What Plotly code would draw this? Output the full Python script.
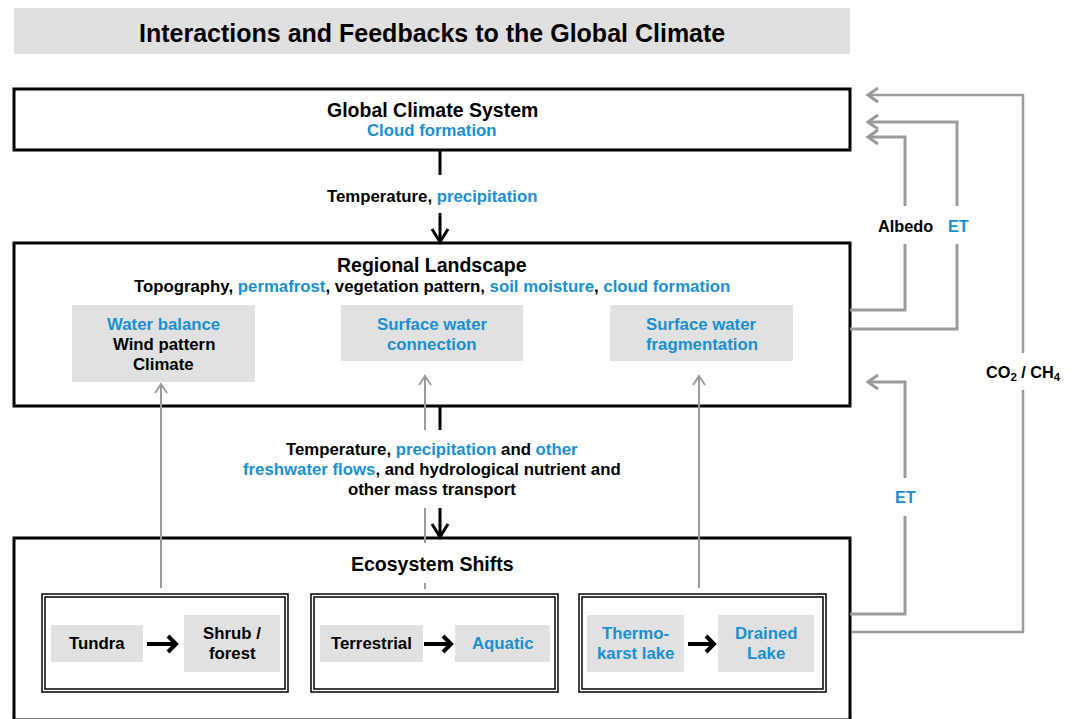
import plotly.graph_objects as go

W, H = 1074, 719
BLUE = "#1a8fd0"
GREY = "#9b9b9b"
BOXFILL = "#e1e1e1"
FONT = "Liberation Sans, Arial, sans-serif"
S_BODY = 16.8
S_HEAD = 19.5
S_TITLE = 25
S_SIDE = 16.3


def b(t):
    return f'<span style="color:{BLUE}">{t}</span>'


# ---- text content ----
title_text = "Interactions and Feedbacks to the Global Climate"
main_boxes = [  # (x0, y0, x1, y1)
    (14, 89, 850, 150),
    (14, 243, 850, 406),
    (14, 538, 850, 720),
]
main_titles = ["Global Climate System", "Regional Landscape", "Ecosystem Shifts"]
main_title_y = [110, 265, 564]
sub_lines = [("Cloud formation", 130, True),
             ("Topography, " + b("permafrost") + ", vegetation pattern, " + b("soil moisture") + ", " + b("cloud formation"), 286, False)]

landscape_boxes = [(72, 305, 255, 382), (341, 305, 523, 361), (610, 305, 793, 361)]
landscape_lines = [[b("Water balance"), "Wind pattern", "Climate"],
                   [b("Surface water"), b("connection")],
                   [b("Surface water"), b("fragmentation")]]

flow_text_top = ["Temperature, " + b("precipitation")]
flow_text_mid = ["Temperature, " + b("precipitation") + " and " + b("other"),
                 b("freshwater flows") + ", and hydrological nutrient and",
                 "other mass transport"]

shift_frames = [(42, 594, 288, 692), (311, 594, 558, 692), (579, 594, 826, 692)]
shift_boxes = [(51, 625, 143, 662), (184, 615, 280, 672),
               (320, 625, 423, 662), (455, 625, 550, 662),
               (587, 615, 684, 672), (718, 615, 814, 672)]
shift_lines = [["Tundra"], ["Shrub /", "forest"],
               ["Terrestrial"], [b("Aquatic")],
               [b("Thermo-"), b("karst lake")], [b("Drained"), b("Lake")]]

feedback_labels = [("Albedo", 905, 226), (b("ET"), 958, 226),
                   ("CO<sub>2</sub> / CH<sub>4</sub>", 1023, 373), (b("ET"), 905, 497)]

shapes = []
annots = []


def rect(x0, y0, x1, y1, fill="rgba(0,0,0,0)", lc="black", lw=0):
    shapes.append(dict(type="rect", xref="x", yref="y", x0=x0, y0=y0, x1=x1, y1=y1,
                       fillcolor=fill, line=dict(color=lc, width=lw), layer="above"))


def path(d, color, width):
    shapes.append(dict(type="path", xref="x", yref="y", path=d,
                       line=dict(color=color, width=width), layer="above"))


def text(t, x, y, size=S_BODY, color="black", bold=True):
    annots.append(dict(x=x, y=y, xref="x", yref="y", text=t, showarrow=False,
                       font=dict(family=FONT, size=size, color=color,
                                 weight="bold" if bold else "normal"),
                       xanchor="center", yanchor="middle"))


# title
rect(14, 8, 850, 54, fill="#e0e0e0")
text(title_text, 432, 33, size=S_TITLE)

# main boxes
for (x0, y0, x1, y1) in main_boxes:
    rect(x0, y0, x1, y1, fill="white", lw=3)
for t, y in zip(main_titles, main_title_y):
    text(t, 432, y, size=S_HEAD)
for t, y, blue in sub_lines:
    text(b(t) if blue else t, 432, y)

# landscape grey boxes
for (x0, y0, x1, y1), lines in zip(landscape_boxes, landscape_lines):
    rect(x0, y0, x1, y1, fill=BOXFILL)
    cx = (x0 + x1) / 2
    for i, ln in enumerate(lines):
        text(ln, cx, 324 + 20 * i)

# shift frames (double border)
for (x0, y0, x1, y1) in shift_frames:
    rect(x0, y0, x1, y1, lw=1.5)
    rect(x0 + 3, y0 + 3, x1 - 3, y1 - 3, lw=1.5)
for (x0, y0, x1, y1), lines in zip(shift_boxes, shift_lines):
    rect(x0, y0, x1, y1, fill=BOXFILL)
    cx = (x0 + x1) / 2
    cy = (y0 + y1) / 2
    n = len(lines)
    for i, ln in enumerate(lines):
        text(ln, cx, cy + 20 * (i - (n - 1) / 2))

# black horizontal arrows between shift boxes
for (xs, xe) in [(147, 176), (424, 451), (688, 714)]:
    path(f"M{xs},644 L{xe-1},644", "black", 4)
    path(f"M{xe-8},636 L{xe},644 L{xe-8},652", "black", 4)

# flow text
text(flow_text_top[0], 432, 196)
for i, ln in enumerate(flow_text_mid):
    text(ln, 432, 449 + 20 * i)

# black vertical connectors
path("M440,150 L440,175", "black", 3)
path("M440,213 L440,241", "black", 3)
path("M432,229 L440,242 L448,229", "black", 3)
path("M440,406 L440,430", "black", 3)
path("M440,508 L440,536", "black", 3)
path("M432,524 L440,537 L448,524", "black", 3)

# grey upward arrows from ecosystem shifts
def up_head(x, y):
    path(f"M{x-6},{y+9} L{x},{y} L{x+6},{y+9}", GREY, 2)

path("M161,588 L161,384", GREY, 2)
up_head(161, 384)
path("M425,376 L425,430 M425,508 L425,543 M425,583 L425,589", GREY, 2)
up_head(425, 376)
path("M699,588 L699,376", GREY, 2)
up_head(699, 376)

# feedback loops on the right
def left_head(x, y):
    path(f"M{x+10},{y-7} L{x},{y} L{x+10},{y+7}", GREY, 3)

path("M852,632 L1023,632 L1023,390 M1023,353 L1023,95 L869,95", GREY, 2.5)
left_head(868, 95)
path("M850,329 L957,329 L957,244 M957,206 L957,122 L869,122", GREY, 3)
left_head(868, 122)
path("M850,310 L905,310 L905,244 M905,206 L905,137 L869,137", GREY, 3)
left_head(868, 137)
path("M850,614 L905,614 L905,516 M905,478 L905,382 L869,382", GREY, 3)
left_head(868, 382)

for t, x, y in feedback_labels:
    text(t, x, y, size=S_SIDE)

fig = go.Figure()
fig.update_layout(
    width=W, height=H,
    margin=dict(l=0, r=0, t=0, b=0),
    paper_bgcolor="white", plot_bgcolor="white",
    xaxis=dict(range=[0, W], visible=False, fixedrange=True),
    yaxis=dict(range=[H, 0], visible=False, fixedrange=True),
    shapes=shapes, annotations=annots, showlegend=False,
)
fig.write_html("out.html", post_script="document.body.style.margin='0';document.body.style.overflow='hidden';",
               config={"displayModeBar": False})
